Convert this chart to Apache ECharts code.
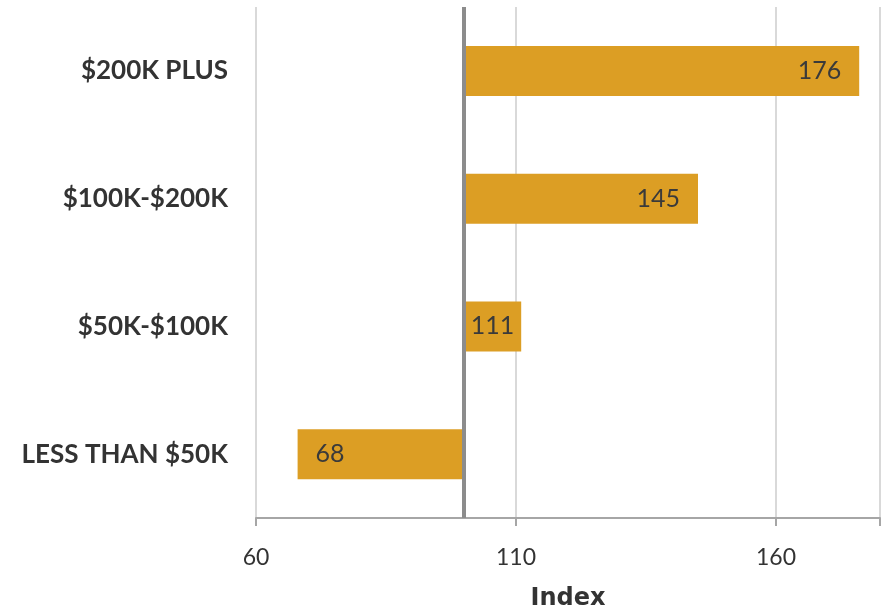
<!DOCTYPE html>
<html><head><meta charset="utf-8">
<script src="https://cdn.jsdelivr.net/npm/echarts@6/dist/echarts.min.js"></script>
<style>html,body{margin:0;padding:0;background:#fff}#c{width:888px;height:612px}</style>
</head><body><div id="c"></div>
<script>
var categories = ['LESS THAN $50K', '$50K-$100K', '$100K-$200K', '$200K PLUS'];
var values = [68, 111, 145, 176];
var baseline = 100;
var xTicks = { min: 60, max: 180, interval: 50 };

var baseData = values.map(function (v) { return Math.min(v, baseline); });
var barData = values.map(function (v, i) {
  var pos = v < baseline ? 'insideLeft' : (Math.abs(v - baseline) < 20 ? 'inside' : 'insideRight');
  return { value: Math.abs(v - baseline), orig: v, label: { position: pos } };
});

var chart = echarts.init(document.getElementById('c'));
chart.setOption({
  animation: false,
  grid: { left: 256, right: 8, top: 7, bottom: 94, containLabel: false, outerBoundsMode: 'none' },
  xAxis: {
    type: 'value', min: xTicks.min, max: xTicks.max, interval: xTicks.interval,
    name: 'Index', nameLocation: 'middle', nameGap: 69,
    nameTextStyle: { fontFamily: 'DejaVu Sans', fontWeight: 'bold', fontSize: 24, color: '#333' },
    axisLine: { show: true, lineStyle: { color: '#a6a6a6', width: 2 } },
    axisTick: { show: true, length: 8, lineStyle: { color: '#a6a6a6', width: 2 } },
    axisLabel: { fontFamily: 'Lato', fontSize: 23, color: '#333', margin: 28,
      formatter: function (v) { return (v - xTicks.min) % xTicks.interval === 0 ? v : ''; } },
    splitLine: { show: true, lineStyle: { color: '#d9d9d9', width: 2 } }
  },
  yAxis: {
    type: 'category', data: categories,
    axisLine: { show: false }, axisTick: { show: false },
    axisLabel: { fontFamily: 'Lato', fontWeight: 'bold', fontSize: 26, color: '#333', margin: 28 }
  },
  series: [
    { type: 'bar', stack: 's', data: baseData, barWidth: 50,
      itemStyle: { color: 'transparent' }, silent: true },
    { type: 'bar', stack: 's', data: barData, barWidth: 50,
      itemStyle: { color: '#dc9e24' },
      label: { show: true, fontFamily: 'Lato', fontSize: 25, color: '#3a3a3a', distance: 18,
        formatter: function (p) { return p.data.orig; } },
      markLine: { silent: true, symbol: 'none', label: { show: false },
        lineStyle: { color: '#8c8c8c', width: 4, type: 'solid' },
        data: [{ xAxis: baseline }] }
    }
  ]
});
</script></body></html>
